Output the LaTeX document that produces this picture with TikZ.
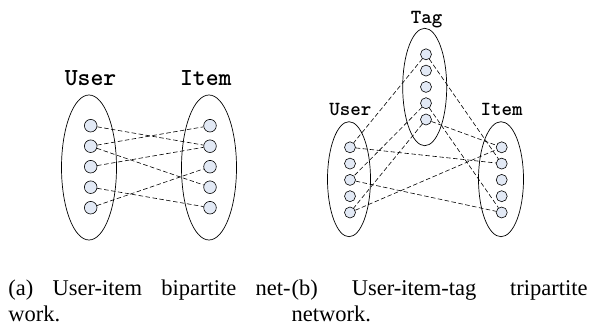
\documentclass[tikz,border=0pt]{standalone}
\usepackage{fontspec}
\setmainfont{Liberation Serif}
\definecolor{nodefill}{HTML}{E2E9F5}
\begin{document}
\begin{tikzpicture}[x=1pt, y=-1pt,
  main/.style = {draw, circle, fill=nodefill, line width=0.6pt, inner sep=0pt, minimum size=12.6pt},
  small/.style = {main, minimum size=11pt},
  link/.style = {dashed, dash pattern=on 4.5pt off 2.5pt, line width=0.6pt},
  part/.style = {line width=0.7pt},
  setname/.style = {font=\ttfamily\bfseries\fontsize{24.5}{26}\selectfont, anchor=base},
  setsmall/.style = {font=\ttfamily\bfseries\fontsize{20}{22}\selectfont, anchor=base},
  captext/.style = {font=\fontsize{22.5}{26}\selectfont, anchor=base west, inner sep=0pt}]
\useasboundingbox (0,0) rectangle (592,327);

% (a) bipartite
\draw[part] (89,167.5) ellipse [x radius=27.5, y radius=72.5];
\draw[part] (209,167.5) ellipse [x radius=27.5, y radius=72.5];
\node[setname] (user) at (90.5,85) {User};
\node[setname] (item) at (205.8,85) {Item};

\begin{scope}[node distance=20.5pt]
\node[main] (u1) at (90.7,125.7) {};
\node[main] (u2) [below of=u1] {};
\node[main] (u3) [below of=u2] {};
\node[main] (u4) [below of=u3] {};
\node[main] (u5) [below of=u4] {};
\node[main] (i1) at (210,125.7) {};
\node[main] (i2) [below of=i1] {};
\node[main] (i3) [below of=i2] {};
\node[main] (i4) [below of=i3] {};
\node[main] (i5) [below of=i4] {};
\end{scope}

\draw[link] (u1) -- (i2);
\draw[link] (u2) -- (i1);
\draw[link] (u2) -- (i4);
\draw[link] (u3) -- (i2);
\draw[link] (u4) -- (i5);
\draw[link] (u5) -- (i3);

% (b) tripartite
\draw[part] (349,179.2) ellipse [x radius=21.5, y radius=57.5];
\draw[part] (501,179.2) ellipse [x radius=22.5, y radius=57.5];
\draw[part] (424.7,87) ellipse [x radius=22, y radius=58.7];
\node[setsmall] (tag) at (426.7,23.3) {Tag};
\node[setsmall] (user2) at (350.3,115) {User};
\node[setsmall] (item2) at (501.7,115) {Item};

\begin{scope}[node distance=16.3pt]
\node[small] (T1) at (426,54.3) {};
\node[small] (T2) [below of=T1] {};
\node[small] (T3) [below of=T2] {};
\node[small] (T4) [below of=T3] {};
\node[small] (T5) [below of=T4] {};
\node[small] (U1) at (350,147.3) {};
\node[small] (U2) [below of=U1] {};
\node[small] (U3) [below of=U2] {};
\node[small] (U4) [below of=U3] {};
\node[small] (U5) [below of=U4] {};
\node[small] (I1) at (501.7,147.3) {};
\node[small] (I2) [below of=I1] {};
\node[small] (I3) [below of=I2] {};
\node[small] (I4) [below of=I3] {};
\node[small] (I5) [below of=I4] {};
\end{scope}

\draw[link] (T1) -- (U1);
\draw[link] (T1) -- (I2);
\draw[link] (T4) -- (U3);
\draw[link] (T4) -- (I5);
\draw[link] (T5) -- (U5);
\draw[link] (T5) -- (I1);
\draw[link] (U1) -- (I2);
\draw[link] (U3) -- (I5);
\draw[link] (U5) -- (I1);

% captions
\node[captext] (capa) at (8.3,295.5) {\makebox[282pt][s]{(a) User-item bipartite net-}};
\node[captext] (capa2) at (8.3,321) {work.};
\node[captext] (capb) at (291.5,295.5) {\makebox[296pt][s]{(b) User-item-tag tripartite}};
\node[captext] (capb2) at (291.5,321) {network.};
\end{tikzpicture}
\end{document}
